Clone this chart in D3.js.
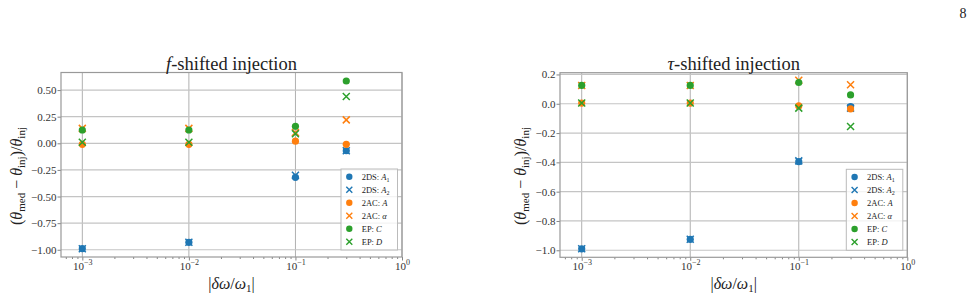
<!DOCTYPE html>
<html>
<head>
<meta charset="utf-8">
<script src="https://cdn.jsdelivr.net/npm/d3@7"></script>
<style>
  body { margin: 0; background: #fff; }
  svg { display: block; }
  svg text { font-family: "Liberation Serif", "DejaVu Serif", serif; }
</style>
</head>
<body>
<div id="chart"></div>
<script>
// valores
var xVals = [0.001, 0.01, 0.1, 0.3];

var fA1 = [-0.99, -0.93, -0.32, -0.07],   // f-shifted
    fA2 = [-0.99, -0.93, -0.30, -0.07],
    fA = [-0.01, -0.01, 0.02, -0.01],
    fAlpha = [0.14, 0.14, 0.10, 0.22],
    fC = [0.125, 0.125, 0.16, 0.585],
    fD = [0.01, 0.01, 0.09, 0.44];

var tA1 = [-0.99, -0.925, -0.395, -0.02],  // tau-shifted
    tA2 = [-0.99, -0.925, -0.39, -0.03],
    tA = [0.005, 0.005, -0.015, -0.035],
    tAlpha = [0.125, 0.125, 0.16, 0.13],
    tC = [0.125, 0.125, 0.145, 0.06],
    tD = [0.005, 0.005, -0.03, -0.155];

var groups = ["2DS", "2DS", "2AC", "2AC", "EP", "EP"],
    symbols = ["A", "A", "A", "\u03b1", "C", "D"],
    subs = ["1", "2", "", "", "", ""];

var xTicks = [1e-3, 1e-2, 1e-1, 1],
    xExp = ["\u22123", "\u22122", "\u22121", "0"],
    fYTicks = [-1, -0.75, -0.5, -0.25, 0, 0.25, 0.5],
    tYTicks = [-1, -0.8, -0.6, -0.4, -0.2, 0, 0.2];

var colors = ["#1f77b4", "#1f77b4", "#ff7f0e", "#ff7f0e", "#2ca02c", "#2ca02c"],
    shapes = ["o", "x", "o", "x", "o", "x"],
    cross = "M-3.5,-3.5L3.5,3.5M-3.5,3.5L3.5,-3.5",
    serif = "'Liberation Serif', 'DejaVu Serif', serif";

var svg = d3.select("#chart")
            .append("svg")
            .attr("width", 975)
            .attr("height", 298)
            .attr("font-family", serif)
            .style("fill", "#222");

// numero de pagina
svg.append("text")
   .attr("x", 963).attr("y", 17.5)
   .attr("text-anchor", "middle")
   .style("font-size", "14px")
   .text("8");

// minor ticks del eje log
var minor = [];
[-4, -3, -2, -1].forEach(k => d3.range(2, 10).forEach(m => minor.push(m * Math.pow(10, k))));

function panel(p) {
    var x = d3.scaleLog().domain([Math.pow(10, -3.2), 1]).range([p.left, p.right]),
        y = d3.scaleLinear().domain(p.yDomain).range([p.bottom, p.top]);
    minor = minor.filter(d => d >= x.domain()[0] && d <= 1);

    var g = svg.append("g");

    g.append("rect") // fondo
     .attr("x", p.left).attr("y", p.top)
     .attr("width", p.right - p.left).attr("height", p.bottom - p.top)
     .attr("fill", "#fff");

    // grillas
    g.selectAll(".gx").data(xTicks).enter().append("line")
     .attr("x1", d => x(d)).attr("x2", d => x(d))
     .attr("y1", p.top).attr("y2", p.bottom)
     .attr("stroke", "#b0b0b0").attr("stroke-width", 1);
    g.selectAll(".gy").data(p.yTicks).enter().append("line")
     .attr("x1", p.left).attr("x2", p.right)
     .attr("y1", d => y(d)).attr("y2", d => y(d))
     .attr("stroke", "#c4c4c4").attr("stroke-width", 1.2);

    // ejes
    var ax = g.append("g")
              .attr("transform", "translate(0," + p.bottom + ")")
              .call(d3.axisBottom(x).tickValues(xTicks).tickSize(3.5).tickSizeOuter(0).tickFormat(""))
              .attr("font-family", serif);
    ax.selectAll(".tick text")
      .attr("y", 13).attr("dy", 0)
      .style("font-size", "11px").style("fill", "#333")
      .each(function (d, i) {
          var t = d3.select(this);
          t.append("tspan").text("10");
          t.append("tspan").attr("dy", -5).style("font-size", "8px").text(xExp[i]);
      });
    g.append("g")
     .attr("transform", "translate(0," + p.bottom + ")")
     .call(d3.axisBottom(x).tickValues(minor).tickSize(2).tickSizeOuter(0).tickFormat(""));

    g.append("g")
     .attr("transform", "translate(" + p.left + ",0)")
     .call(d3.axisLeft(y).tickValues(p.yTicks).tickSize(3.5).tickPadding(1).tickSizeOuter(0).tickFormat(d3.format(p.fmt)))
     .attr("font-family", serif)
     .selectAll("text")
     .style("font-size", "11px").style("fill", "#333");

    g.selectAll(".domain").remove();
    g.selectAll(".tick line").attr("stroke", "#666").attr("stroke-width", 0.8);

    g.append("rect") // marco
     .attr("x", p.left).attr("y", p.top)
     .attr("width", p.right - p.left).attr("height", p.bottom - p.top)
     .attr("fill", "none").attr("stroke", "#999").attr("stroke-width", 1.2);

    // puntos
    p.series.forEach(function (s, k) {
        var pts = g.selectAll(".s" + k).data(s.map((v, i) => [xVals[i], v])).enter();
        if (shapes[k] == "o") {
            pts.append("circle")
               .attr("cx", d => x(d[0])).attr("cy", d => y(d[1]))
               .attr("r", 3.6).attr("fill", colors[k]);
        } else {
            pts.append("path")
               .attr("d", cross)
               .attr("transform", d => "translate(" + x(d[0]) + "," + y(d[1]) + ")")
               .attr("fill", "none").attr("stroke", colors[k]).attr("stroke-width", 1.5);
        }
    });

    // titulo
    var title = g.append("text")
                 .attr("x", (p.left + p.right) / 2).attr("y", p.top - 3)
                 .attr("text-anchor", "middle")
                 .style("font-size", "18.5px");
    title.append("tspan").style("font-style", "italic").text(p.sym);
    title.append("tspan").text("-shifted injection");

    // etiqueta x
    var xl = g.append("text")
              .attr("x", (p.left + p.right) / 2).attr("y", 289)
              .attr("text-anchor", "middle")
              .style("font-size", "16px");
    xl.append("tspan").text("|");
    xl.append("tspan").style("font-style", "italic").text("\u03b4\u03c9");
    xl.append("tspan").text("/");
    xl.append("tspan").style("font-style", "italic").text("\u03c9");
    xl.append("tspan").attr("dy", 3).style("font-size", "11px").text("1");
    xl.append("tspan").attr("dy", -3).text("|");

    // etiqueta y
    var yl = g.append("text")
              .attr("transform", "translate(" + p.yLabelX + ",176) rotate(-90)")
              .attr("text-anchor", "middle")
              .attr("dy", "0.35em")
              .style("font-size", "16px");
    yl.append("tspan").text("(");
    yl.append("tspan").style("font-style", "italic").text("\u03b8");
    yl.append("tspan").attr("dy", 3.5).style("font-size", "11px").text("med");
    yl.append("tspan").attr("dy", -3.5).text(" \u2212 ");
    yl.append("tspan").style("font-style", "italic").text("\u03b8");
    yl.append("tspan").attr("dy", 3.5).style("font-size", "11px").text("inj");
    yl.append("tspan").attr("dy", -3.5).text(")/");
    yl.append("tspan").style("font-style", "italic").text("\u03b8");
    yl.append("tspan").attr("dy", 3.5).style("font-size", "11px").text("inj");

    // leyenda
    var lx = p.right - 61, ly = p.bottom - 88;
    var leg = g.append("g").attr("transform", "translate(" + lx + "," + ly + ")");
    leg.append("rect")
       .attr("width", 56.5).attr("height", 81)
       .attr("fill", "#fff").attr("fill-opacity", 0.8)
       .attr("stroke", "#bbb").attr("stroke-width", 1);
    var rows = leg.selectAll(".row").data(groups).enter().append("g")
                  .attr("transform", (d, i) => "translate(8.3," + (7.7 + 13 * i) + ")");
    rows.filter((d, i) => shapes[i] == "o").append("circle")
        .attr("r", 3.2).attr("fill", (d, i) => colors[2 * i]);
    rows.filter((d, i) => shapes[i] == "x").append("path")
        .attr("d", "M-3,-3L3,3M-3,3L3,-3")
        .attr("fill", "none").attr("stroke", (d, i) => colors[2 * i + 1]).attr("stroke-width", 1.4);
    rows.append("text")
        .attr("x", 12.4).attr("y", 2.8)
        .style("font-size", "8.5px")
        .each(function (d, i) {
            var t = d3.select(this);
            t.append("tspan").text(d + ": ");
            t.append("tspan").style("font-style", "italic").text(symbols[i]);
            if (subs[i]) t.append("tspan").attr("dy", 2).style("font-size", "6px").text(subs[i]);
        });
}

panel({left: 61, right: 402, top: 72.5, bottom: 257, yDomain: [-1.068, 0.665],
       yTicks: fYTicks, fmt: ".2f", sym: "f", yLabelX: 16,
       series: [fA1, fA2, fA, fAlpha, fC, fD]});
panel({left: 560, right: 907.3, top: 72.7, bottom: 257.3, yDomain: [-1.048, 0.212],
       yTicks: tYTicks, fmt: ".1f", sym: "\u03c4", yLabelX: 520,
       series: [tA1, tA2, tA, tAlpha, tC, tD]});
</script>
</body>
</html>
